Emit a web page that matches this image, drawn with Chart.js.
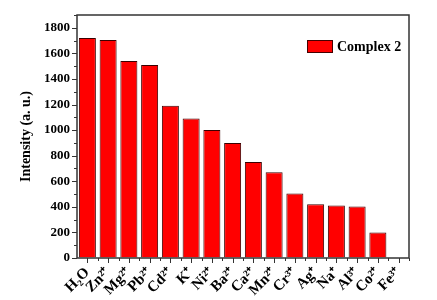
<!DOCTYPE html>
<html>
<head>
<meta charset="utf-8">
<script src="https://cdn.jsdelivr.net/npm/chart.js@4/dist/chart.umd.min.js"></script>
<style>
  html, body { margin: 0; padding: 0; background: #fff; }
  #wrap { width: 437px; height: 300px; }
</style>
</head>
<body>
<div id="wrap"><canvas id="barChart"></canvas></div>
<script>
// ions tested (x axis)
const ions = ['H\u2082O', 'Zn\u00b2\u207a', 'Mg\u00b2\u207a', 'Pb\u00b2\u207a', 'Cd\u00b2\u207a', 'K\u207a',
              'Ni\u00b2\u207a', 'Ba\u00b2\u207a', 'Ca\u00b2\u207a', 'Mn\u00b2\u207a', 'Cr\u00b3\u207a', 'Ag\u207a',
              'Na\u207a', 'Al\u00b3\u207a', 'Co\u00b2\u207a', 'Fe\u00b3\u207a'];
// luminescence intensity of Complex 2 for each ion
const intensity = [1720, 1705, 1540, 1510, 1190, 1090, 1000, 900, 750, 670, 505, 420, 410, 403, 200, 0];
const yTicks = [0, 200, 400, 600, 800, 1000, 1200, 1400, 1600, 1800];

const FONT = '"Liberation Serif", "Times New Roman", serif';
const AXIS = '#333';

// frame, ticks (major + minor) and legend inside the plot
const framePlugin = {
    id: 'frame',
    afterDraw(chart) {
        const c = chart.ctx, a = chart.chartArea;
        const xs = chart.scales.x, ys = chart.scales.y;
        c.save();
        c.strokeStyle = AXIS;
        c.lineWidth = 1.5;
        c.strokeRect(a.left, a.top, a.right - a.left, a.bottom - a.top);
        c.lineWidth = 1;
        c.beginPath();
        for (let v = 0; v <= 1900; v += 100) {
            const y = Math.round(ys.getPixelForValue(v)) + 0.5;
            const len = v % 200 === 0 ? 5 : 3;
            c.moveTo(a.left - len, y); c.lineTo(a.left, y);
        }
        const step = xs.getPixelForValue(1) - xs.getPixelForValue(0);
        for (let i = 0; i < ions.length; i++) {
            const x = Math.round(xs.getPixelForValue(i)) + 0.5;
            c.moveTo(x, a.bottom); c.lineTo(x, a.bottom + 5);
            const xb = Math.round(xs.getPixelForValue(i) + step / 2) + 0.5;
            c.moveTo(xb, a.bottom); c.lineTo(xb, a.bottom + 3);
        }
        c.stroke();

        // legend
        const bx = a.right - 102, by = a.top + 25;
        c.fillStyle = '#ff0000';
        c.fillRect(bx, by, 26, 13);
        c.strokeStyle = '#400';
        c.strokeRect(bx + 0.5, by + 0.5, 25, 12);
        c.fillStyle = '#000';
        c.font = 'bold 14px ' + FONT;
        c.textBaseline = 'middle';
        c.fillText('Complex 2', bx + 30, by + 7);
        c.restore();
    }
};

new Chart(document.getElementById('barChart'), {
    type: 'bar',
    data: {
        labels: ions,
        datasets: [{
            label: 'Complex 2',
            data: intensity,
            backgroundColor: '#ff0000',
            borderColor: '#3a0000',
            borderWidth: ctx => (ctx.raw === 0 ? 0 : 1),
            barPercentage: 0.82,
            categoryPercentage: 1
        }]
    },
    options: {
        responsive: true,
        maintainAspectRatio: false,
        animation: false,
        layout: { padding: { left: 18, right: 28, top: 15, bottom: 0 } },
        plugins: {
            legend: { display: false },
            tooltip: { enabled: false }
        },
        scales: {
            x: {
                grid: { display: true, drawOnChartArea: false, color: 'transparent', tickLength: 5 },
                border: { display: false },
                ticks: {
                    color: '#000',
                    font: { family: FONT, size: 15, weight: 'bold' },
                    minRotation: 45, maxRotation: 45,
                    padding: 1,
                    autoSkip: false
                },
                afterFit(s) { s.height = 42; }
            },
            y: {
                min: 0,
                max: 1900,
                grid: { display: true, drawOnChartArea: false, color: 'transparent', tickLength: 5 },
                border: { display: false },
                afterBuildTicks(s) { s.ticks = yTicks.map(v => ({ value: v })); },
                ticks: {
                    color: '#000',
                    font: { family: FONT, size: 13, weight: 'bold' },
                    padding: 2,
                    callback: v => String(v)
                },
                title: {
                    display: true,
                    text: 'Intensity (a. u.)',
                    color: '#000',
                    font: { family: FONT, size: 14, weight: 'bold' },
                    padding: { top: 0, bottom: 4 }
                },
                afterFit(s) { s.width = 59; }
            }
        }
    },
    plugins: [framePlugin]
});
</script>
</body>
</html>
